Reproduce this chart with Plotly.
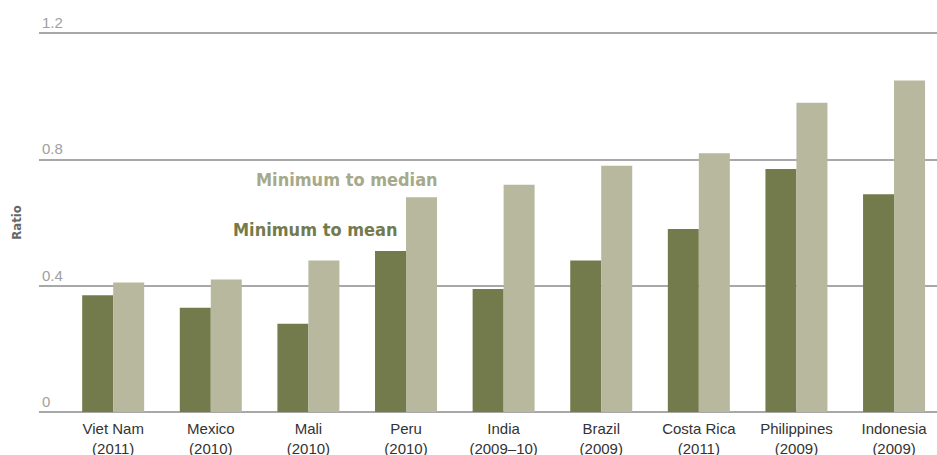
import plotly.graph_objects as go

countries = ["Viet Nam<br>(2011)", "Mexico<br>(2010)", "Mali<br>(2010)", "Peru<br>(2010)",
             "India<br>(2009–10)", "Brazil<br>(2009)", "Costa Rica<br>(2011)",
             "Philippines<br>(2009)", "Indonesia<br>(2009)"]
min_to_mean = [0.37, 0.33, 0.28, 0.51, 0.39, 0.48, 0.58, 0.77, 0.69]
min_to_median = [0.41, 0.42, 0.48, 0.68, 0.72, 0.78, 0.82, 0.98, 1.05]
y_ticks = [0, 0.4, 0.8, 1.2]
y_tick_labels = ["0", "0.4", "0.8", "1.2"]

DARK = "#737A4C"
LIGHT = "#B7B89E"
COND = "DejaVu Sans Condensed, Liberation Sans Narrow, Roboto Condensed, Roboto, sans-serif"

fig = go.Figure()
fig.add_trace(go.Bar(x=list(range(len(countries))), y=min_to_mean, name="Minimum to mean",
                     marker=dict(color=DARK, line=dict(width=0))))
fig.add_trace(go.Bar(x=list(range(len(countries))), y=min_to_median, name="Minimum to median",
                     marker=dict(color=LIGHT, line=dict(width=0))))

fig.update_layout(
    width=937, height=455,
    margin=dict(l=39, r=0, t=8, b=43),
    plot_bgcolor="white", paper_bgcolor="white",
    barmode="group", bargap=0.365, bargroupgap=0,
    showlegend=False,
    font=dict(family="Liberation Sans, Arial, sans-serif", size=15, color="#333333"),
)
fig.update_xaxes(
    tickmode="array", tickvals=list(range(len(countries))), ticktext=countries,
    range=[-0.76, 8.44], showgrid=False, zeroline=False, showline=False,
    ticks="", tickfont=dict(size=15, color="#333333"), ticklabelstandoff=6,
    automargin=False,
)
fig.update_yaxes(
    range=[0, 1.28], tickmode="array", tickvals=y_ticks, ticktext=y_tick_labels,
    showgrid=True, gridcolor="#A8A8A8", gridwidth=1.5,
    zeroline=True, zerolinecolor="#A8A8A8", zerolinewidth=1.5,
    showline=False, ticks="", ticklabelposition="inside top",
    tickfont=dict(size=15, color="#A0A0A0"), automargin=False,
)
fig.add_annotation(x=-0.0245, y=0.603, xref="paper", yref="y", text="<b>Ratio</b>",
                   showarrow=False, textangle=-90, xanchor="center", yanchor="middle",
                   font=dict(family=COND, size=13, color="#666666"))
fig.add_annotation(x=3.35, y=0.736, xref="x", yref="y", text="<b>Minimum to median</b>",
                   showarrow=False, xanchor="right", yanchor="middle",
                   font=dict(family=COND, size=18, color="#A6A98A"))
fig.add_annotation(x=2.93, y=0.577, xref="x", yref="y", text="<b>Minimum to mean</b>",
                   showarrow=False, xanchor="right", yanchor="middle",
                   font=dict(family=COND, size=18, color=DARK))

fig.write_html("out.html", config={"displayModeBar": False},
               post_script="document.body.style.margin='0';")
